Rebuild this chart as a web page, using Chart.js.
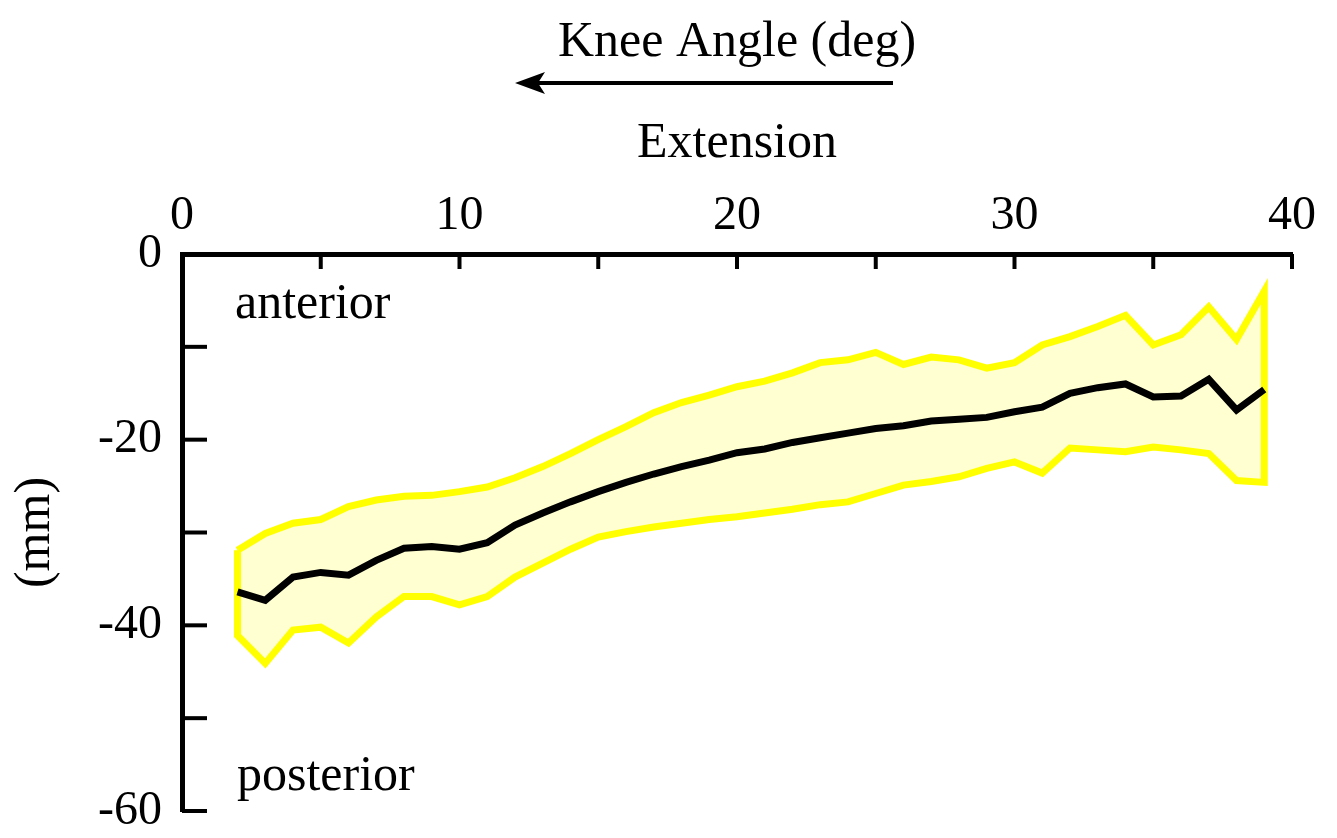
<!DOCTYPE html>
<html>
<head>
<meta charset="utf-8">
<script src="https://cdn.jsdelivr.net/npm/chart.js@4"></script>
<style>
  body { margin: 0; background: #fff; }
  #wrap { width: 1337px; height: 838px; }
</style>
</head>
<body>
<div id="wrap"><canvas id="kneeChart"></canvas></div>
<script>
// knee angle (deg), sampled every degree
const angles = [2, 3, 4, 5, 6, 7, 8, 9, 10, 11, 12, 13, 14, 15, 16, 17, 18, 19, 20,
  21, 22, 23, 24, 25, 26, 27, 28, 29, 30, 31, 32, 33, 34, 35, 36, 37, 38, 39];

// mean translation (mm)
const meanMm = [-36.4, -37.3, -34.8, -34.3, -34.6, -33.0, -31.7, -31.5, -31.8, -31.1,
  -29.2, -27.9, -26.7, -25.6, -24.6, -23.7, -22.9, -22.2, -21.4, -21.0,
  -20.3, -19.8, -19.3, -18.8, -18.5, -18.0, -17.8, -17.6, -17.0, -16.5,
  -15.0, -14.4, -14.0, -15.4, -15.3, -13.5, -16.8, -14.6];

// upper and lower edge of the yellow band (mm)
const upperMm = [-31.9, -30.1, -29.0, -28.6, -27.2, -26.5, -26.1, -26.0, -25.6, -25.1,
  -24.1, -22.9, -21.5, -20.0, -18.6, -17.1, -16.0, -15.2, -14.3, -13.7,
  -12.8, -11.7, -11.4, -10.6, -11.9, -11.1, -11.4, -12.3, -11.7, -9.8,
  -8.9, -7.8, -6.6, -9.8, -8.7, -5.7, -9.2, -4.0];
const lowerMm = [-41.1, -44.1, -40.5, -40.2, -41.9, -39.1, -36.9, -36.9, -37.8, -36.9,
  -34.8, -33.3, -31.8, -30.5, -29.9, -29.4, -29.0, -28.6, -28.3, -27.9,
  -27.5, -27.0, -26.7, -25.8, -24.9, -24.5, -24.0, -23.1, -22.4, -23.6,
  -20.9, -21.1, -21.3, -20.8, -21.1, -21.5, -24.4, -24.6];

const xTicks = [0, 10, 20, 30, 40];
const yTicks = [0, -20, -40, -60];

const serif = '"Liberation Serif", "DejaVu Serif", serif';

// band outline: along the upper edge, back along the lower edge, closed
const band = [];
angles.forEach((a, i) => band.push({ x: a, y: upperMm[i] }));
for (let i = angles.length - 1; i >= 0; i--) band.push({ x: angles[i], y: lowerMm[i] });
band.push({ x: angles[0], y: upperMm[0] });

const meanLine = angles.map((a, i) => ({ x: a, y: meanMm[i] }));

// inward tick marks plus the free text around the plot
const decorations = {
  id: 'decorations',
  afterDraw(chart) {
    const c = chart.ctx;
    const xs = chart.scales.x, ys = chart.scales.y;
    const top = ys.getPixelForValue(0), left = xs.getPixelForValue(0);
    c.save();
    c.strokeStyle = '#000';
    c.lineWidth = 4;
    for (let v = 5; v <= 40; v += 5) {
      const px = xs.getPixelForValue(v);
      c.beginPath(); c.moveTo(px, top); c.lineTo(px, top + 15); c.stroke();
    }
    for (let v = -10; v >= -60; v -= 10) {
      const py = ys.getPixelForValue(v);
      c.beginPath(); c.moveTo(left, py); c.lineTo(left + 25, py); c.stroke();
    }

    c.fillStyle = '#000';
    c.font = '50px ' + serif;
    c.textAlign = 'left';
    c.textBaseline = 'alphabetic';
    c.fillText('anterior', 235, 318);
    c.fillText('posterior', 237, 790);

    c.textAlign = 'center';
    c.fillText('Knee Angle (deg)', 737, 56);
    c.fillText('Extension', 737, 157);

    // arrow pointing toward extension
    c.lineWidth = 4;
    c.beginPath(); c.moveTo(893, 83); c.lineTo(530, 83); c.stroke();
    c.beginPath();
    c.moveTo(515, 83); c.lineTo(545, 72); c.lineTo(538, 83); c.lineTo(545, 94);
    c.closePath(); c.fill();
    c.restore();
  }
};

new Chart(document.getElementById('kneeChart'), {
  type: 'scatter',
  data: {
    datasets: [
      {
        label: 'mean',
        data: meanLine,
        showLine: true,
        borderColor: '#000',
        borderWidth: 7,
        pointRadius: 0,
        fill: false,
        order: 0
      },
      {
        label: 'range',
        data: band,
        showLine: true,
        borderColor: '#FFFF00',
        backgroundColor: '#FFFFD2',
        borderWidth: 7,
        pointRadius: 0,
        fill: 'shape',
        order: 1
      }
    ]
  },
  options: {
    responsive: true,
    maintainAspectRatio: false,
    animation: false,
    layout: { padding: { left: 0, top: 0, right: 45, bottom: 27 } },
    plugins: {
      legend: { display: false },
      tooltip: { enabled: false }
    },
    scales: {
      x: {
        type: 'linear',
        position: 'top',
        min: 0,
        max: 40,
        afterFit: (s) => { s.height = 254; },
        afterBuildTicks: (s) => { s.ticks = xTicks.map(v => ({ value: v })); },
        ticks: {
          font: { family: serif, size: 48 },
          color: '#000',
          padding: 9,
          maxRotation: 0,
          autoSkip: false
        },
        grid: { display: false, drawTicks: false },
        border: { display: true, color: '#000', width: 5 }
      },
      y: {
        type: 'linear',
        min: -60,
        max: 0,
        afterFit: (s) => { s.width = 182; s.paddingTop = 0; s.paddingBottom = 0; },
        afterBuildTicks: (s) => { s.ticks = yTicks.map(v => ({ value: v })); },
        ticks: {
          font: { family: serif, size: 48 },
          color: '#000',
          padding: 20,
          autoSkip: false
        },
        title: {
          display: true,
          text: '(mm)',
          font: { family: serif, size: 50 },
          color: '#000',
          padding: { top: 6, bottom: 0 }
        },
        grid: { display: false, drawTicks: false },
        border: { display: true, color: '#000', width: 5 }
      }
    }
  },
  plugins: [decorations]
});
</script>
</body>
</html>
